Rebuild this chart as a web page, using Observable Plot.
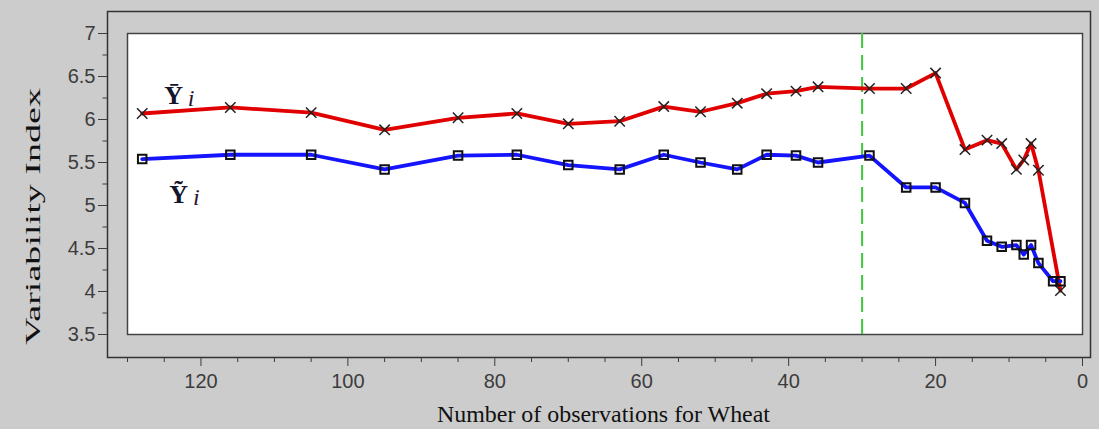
<!DOCTYPE html>
<html><head><meta charset="utf-8">
<script src="https://cdn.jsdelivr.net/npm/d3@7"></script>
<script src="https://cdn.jsdelivr.net/npm/@observablehq/plot@0.6"></script>
<style>
html,body{margin:0;padding:0;background:#cccccc;}
#chart svg{display:block;}
</style></head><body>
<div id="chart"></div>
<script>
// Series: mean variability index (Y bar) and median (Y tilde) vs number of observations
const obsBar = [128,116,105,95,85,77,70,63,57,52,47,43,39,36,29,24,20,16,13,11,9,8,7,6,3];
const valBar = [6.07,6.14,6.08,5.88,6.02,6.07,5.95,5.98,6.15,6.09,6.19,6.30,6.33,6.38,6.36,6.36,6.54,5.65,5.76,5.72,5.42,5.53,5.72,5.41,4.01];
const obsTilde = [128,116,105,95,85,77,70,63,57,52,47,43,39,36,29,24,20,16,13,11,9,8,7,6,4,3];
const valTilde = [5.54,5.59,5.59,5.42,5.58,5.59,5.47,5.42,5.59,5.50,5.42,5.59,5.58,5.50,5.58,5.21,5.21,5.03,4.59,4.52,4.54,4.43,4.54,4.33,4.12,4.12];
const cutoff = [30];
const xDomain = [130, 0];
const yDomain = [3.5, 7];
const yTickValues = [3.5,4,4.5,5,5.5,6,6.5,7];
const yMinorTicks = [3.75,4.25,4.75,5.25,5.75,6.25,6.75];
const xTickValues = [0,20,40,60,80,100,120];
const xMinorTicks = [5,10,15,25,30,35,45,50,55,65,70,75,85,90,95,105,110,115,125,130];
const seriesSymbols = ["\u0232","\u1EF8"];
const seriesSub = ["i","i"];
const labelObs = [125.0, 124.3];
const labelVal = [6.28, 5.13];
const subObs = [121.8, 121.1];
const xTitle = "Number of observations for Wheat";
const yTitle = "Variability Index";

const bar = obsBar.map((o,i)=>({obs:o, val:valBar[i]}));
const tilde = obsTilde.map((o,i)=>({obs:o, val:valTilde[i]}));
const labels = seriesSymbols.map((s,i)=>({s, sub:seriesSub[i], x:labelObs[i], sx:subObs[i], y:labelVal[i]}));

const W = 1099, H = 429;
const inset = {insetLeft:20, insetRight:8, insetTop:22, insetBottom:23};

const chart = Plot.plot({
  width:W, height:H,
  marginLeft:107, marginRight:9, marginTop:11, marginBottom:72,
  style:{background:"#cccccc", fontFamily:"'Liberation Sans', Arial, sans-serif"},
  x:{domain:xDomain, insetLeft:20, insetRight:8},
  y:{domain:yDomain, insetTop:22, insetBottom:23},
  marks:[
    Plot.frame({stroke:"#333", strokeWidth:1.5}),
    Plot.frame({fill:"white", stroke:"#444", strokeWidth:1.5, ...inset}),
    Plot.axisY(yTickValues, {anchor:"left", tickSize:9, tickPadding:3, fontSize:20, color:"#3c3c3c", tickFormat:d=>String(d), label:null}),
    Plot.axisY(yMinorTicks, {anchor:"left", tickSize:4.5, color:"#3c3c3c", tickFormat:()=>"", label:null}),
    Plot.axisX(xTickValues, {anchor:"bottom", tickSize:9, tickPadding:7, fontSize:20, color:"#3c3c3c", tickFormat:d=>String(d), label:null}),
    Plot.axisX(xMinorTicks, {anchor:"bottom", tickSize:5, color:"#3c3c3c", tickFormat:()=>"", label:null}),
    Plot.ruleX(cutoff, {x:d=>d, y1:yDomain[0], y2:yDomain[1], stroke:"#3cc83c", strokeWidth:2, strokeDasharray:"15,7"}),
    Plot.line(bar, {x:"obs", y:"val", stroke:"#e00000", strokeWidth:3.8}),
    Plot.line(tilde, {x:"obs", y:"val", stroke:"#1414ff", strokeWidth:3.8}),
    Plot.dot(bar, {x:"obs", y:"val", symbol:"times", r:4.8, stroke:"#222", strokeWidth:1.5}),
    Plot.dot(tilde, {x:"obs", y:"val", symbol:"square", r:4.8, stroke:"#111", strokeWidth:2}),
    Plot.text(labels, {x:"x", y:"y", text:"s", textAnchor:"start", lineAnchor:"middle", fontSize:26, fontWeight:"bold", fontFamily:"'Liberation Serif', serif", fill:"#15152e"}),
    Plot.text(labels, {x:"sx", y:"y", text:"sub", textAnchor:"start", lineAnchor:"middle", dy:3, fontSize:24, fontStyle:"italic", fontFamily:"'Liberation Serif', serif", fill:"#2a1530"}),
    Plot.text([yTitle], {frameAnchor:"left", rotate:-90, dx:-75, dy:32, textAnchor:"middle", lineAnchor:"middle", fontSize:22, fontFamily:"'Liberation Serif', serif", fill:"#111"}),
    Plot.text([xTitle], {frameAnchor:"bottom", dx:4.5, dy:57, textAnchor:"middle", lineAnchor:"middle", fontSize:23, fontFamily:"'Liberation Serif', serif", fill:"#111"})
  ]
});
document.getElementById("chart").appendChild(chart);
d3.select(chart).selectAll("text").each(function(){
  const t = this.textContent;
  if (t === yTitle) d3.select(this).attr("textLength", 257).attr("lengthAdjust","spacingAndGlyphs");
  if (t === xTitle) d3.select(this).attr("textLength", 333).attr("lengthAdjust","spacingAndGlyphs");
});
</script>
</body></html>
